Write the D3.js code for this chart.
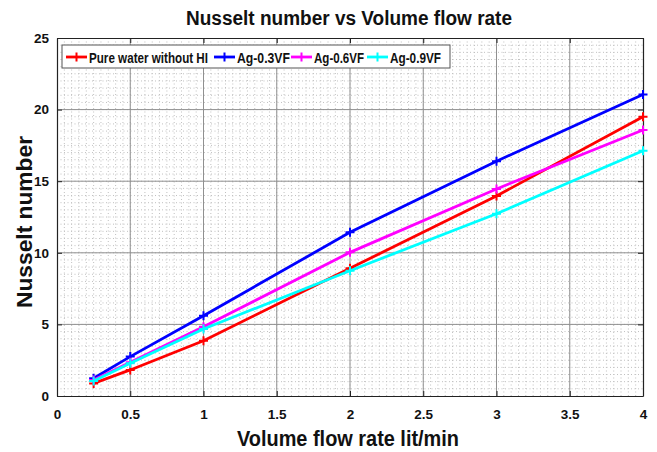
<!DOCTYPE html>
<html lang="en">
<head>
<meta charset="UTF-8">
<title>Nusselt number vs Volume flow rate</title>
<script src="https://d3js.org/d3.v7.min.js"></script>
<style>
    body { margin: 0; background: #fff; }
    text { font-family: "Liberation Sans", Arial, sans-serif; font-weight: bold; fill: #111; }
</style>
</head>
<body>
<svg width="657" height="452"></svg>
<script>
    // data
    const flowRate = [0.25, 0.5, 1, 2, 3, 4];
    const pureWater = [0.88, 1.82, 3.86, 8.92, 13.97, 19.5];
    const ag03 = [1.24, 2.75, 5.61, 11.43, 16.4, 21.05];
    const ag06 = [1.12, 2.35, 4.84, 10.03, 14.46, 18.58];
    const ag09 = [1.05, 2.28, 4.68, 8.75, 12.73, 17.13];

    const seriesNames = ["Pure water without HI", "Ag-0.3VF", "Ag-0.6VF", "Ag-0.9VF"];
    const seriesColors = ["#ff0000", "#0000ff", "#ff00ff", "#00ffff"];
    const seriesValues = [pureWater, ag03, ag06, ag09];

    const xTicks = [0, 0.5, 1, 1.5, 2, 2.5, 3, 3.5, 4];
    const yTicks = [0, 5, 10, 15, 20, 25];

    const svg = d3.select("svg");
    const margin = { left: 57, right: 14, top: 38, bottom: 56 };
    const width = 657, height = 452;

    const x = d3.scaleLinear().domain([0, 4]).range([margin.left, width - margin.right]);
    const y = d3.scaleLinear().domain([0, 25]).range([height - margin.bottom, margin.top]);

    const plus = "M-4.5,0H4.5M0,-4.5V4.5";

    const grid = svg.append("g");
    // minor grid
    grid.selectAll(".vmin").data(d3.range(1, 80).map(i => i * 0.05))
        .enter().append("line")
        .attr("x1", d => x(d)).attr("x2", d => x(d))
        .attr("y1", y(0)).attr("y2", y(25))
        .attr("stroke", "#c0c0c0").attr("stroke-width", 1).attr("stroke-dasharray", "1,2.5");
    grid.selectAll(".hmin").data(d3.range(1, 50).map(i => i * 0.5))
        .enter().append("line")
        .attr("y1", d => y(d)).attr("y2", d => y(d))
        .attr("x1", x(0)).attr("x2", x(4))
        .attr("stroke", "#c0c0c0").attr("stroke-width", 1).attr("stroke-dasharray", "1,2.5");
    // major grid
    grid.selectAll(".vmaj").data(xTicks.slice(1, -1))
        .enter().append("line")
        .attr("x1", d => x(d)).attr("x2", d => x(d))
        .attr("y1", y(0)).attr("y2", y(25))
        .attr("stroke", "#909090").attr("stroke-width", 1);
    grid.selectAll(".hmaj").data(yTicks.slice(1, -1))
        .enter().append("line")
        .attr("y1", d => y(d)).attr("y2", d => y(d))
        .attr("x1", x(0)).attr("x2", x(4))
        .attr("stroke", "#909090").attr("stroke-width", 1);

    // axes
    const xAxis = svg.append("g").attr("transform", `translate(0,${y(0)})`)
        .call(d3.axisBottom(x).tickValues(xTicks).tickFormat(d3.format("")).tickSizeInner(-5).tickSizeOuter(0).tickPadding(13));
    const xTop = svg.append("g").attr("transform", `translate(0,${y(25)})`)
        .call(d3.axisTop(x).tickValues(xTicks).tickFormat("").tickSizeInner(-5).tickSizeOuter(0));
    const yAxis = svg.append("g").attr("transform", `translate(${x(0)},0)`)
        .call(d3.axisLeft(y).tickValues(yTicks).tickSizeInner(-5).tickSizeOuter(0).tickPadding(8));
    const yRight = svg.append("g").attr("transform", `translate(${x(4)},0)`)
        .call(d3.axisRight(y).tickValues(yTicks).tickFormat("").tickSizeInner(-5).tickSizeOuter(0));
    [xAxis, xTop, yAxis, yRight].forEach(a => {
        a.select(".domain").attr("stroke", "#222").attr("stroke-width", 1.2);
        a.selectAll(".tick line").attr("stroke", "#222");
        a.selectAll(".tick text").style("font-size", "13.5px").attr("fill", "#111");
    });

    // lines
    const line = d3.line().x((d, i) => x(flowRate[i])).y(d => y(d));
    seriesValues.forEach((vals, s) => {
        const g = svg.append("g");
        g.append("path").datum(vals)
            .attr("d", line)
            .attr("fill", "none")
            .attr("stroke", seriesColors[s])
            .attr("stroke-width", 2.8);
        g.selectAll("path.mk").data(vals).enter().append("path")
            .attr("class", "mk")
            .attr("d", plus)
            .attr("transform", (d, i) => `translate(${x(flowRate[i])},${y(d)})`)
            .attr("fill", "none")
            .attr("stroke", seriesColors[s])
            .attr("stroke-width", 2);
    });

    // titles
    svg.append("text").attr("x", 349).attr("y", 25)
        .attr("text-anchor", "middle").style("font-size", "20px")
        .attr("textLength", 326).attr("lengthAdjust", "spacingAndGlyphs")
        .text("Nusselt number vs Volume flow rate");
    svg.append("text").attr("x", 348).attr("y", 446)
        .attr("text-anchor", "middle").style("font-size", "22px")
        .attr("textLength", 222).attr("lengthAdjust", "spacingAndGlyphs")
        .text("Volume flow rate lit/min");
    svg.append("text").attr("transform", `translate(32,${y(12.5) + 5}) rotate(-90)`)
        .attr("text-anchor", "middle").style("font-size", "22px")
        .attr("textLength", 172).attr("lengthAdjust", "spacingAndGlyphs")
        .text("Nusselt number");

    // legend
    const legend = svg.append("g").attr("transform", "translate(62,45)");
    legend.append("rect").attr("width", 388).attr("height", 23)
        .attr("fill", "#fff").attr("stroke", "#555").attr("stroke-width", 1);
    const legendX = [4, 152, 229, 305];
    const legendW = [119, 53, 50, 51];
    seriesNames.forEach((name, s) => {
        const e = legend.append("g").attr("transform", `translate(${legendX[s]},12)`);
        e.append("line").attr("x1", 0).attr("x2", 21)
            .attr("stroke", seriesColors[s]).attr("stroke-width", 2.8);
        e.append("path").attr("d", plus)
            .attr("transform", "translate(10.5,0)")
            .attr("fill", "none").attr("stroke", seriesColors[s]).attr("stroke-width", 2);
        e.append("text").attr("x", 23).attr("y", 5.5).style("font-size", "15px")
            .attr("textLength", legendW[s]).attr("lengthAdjust", "spacingAndGlyphs")
            .text(name);
    });
</script>
</body>
</html>
